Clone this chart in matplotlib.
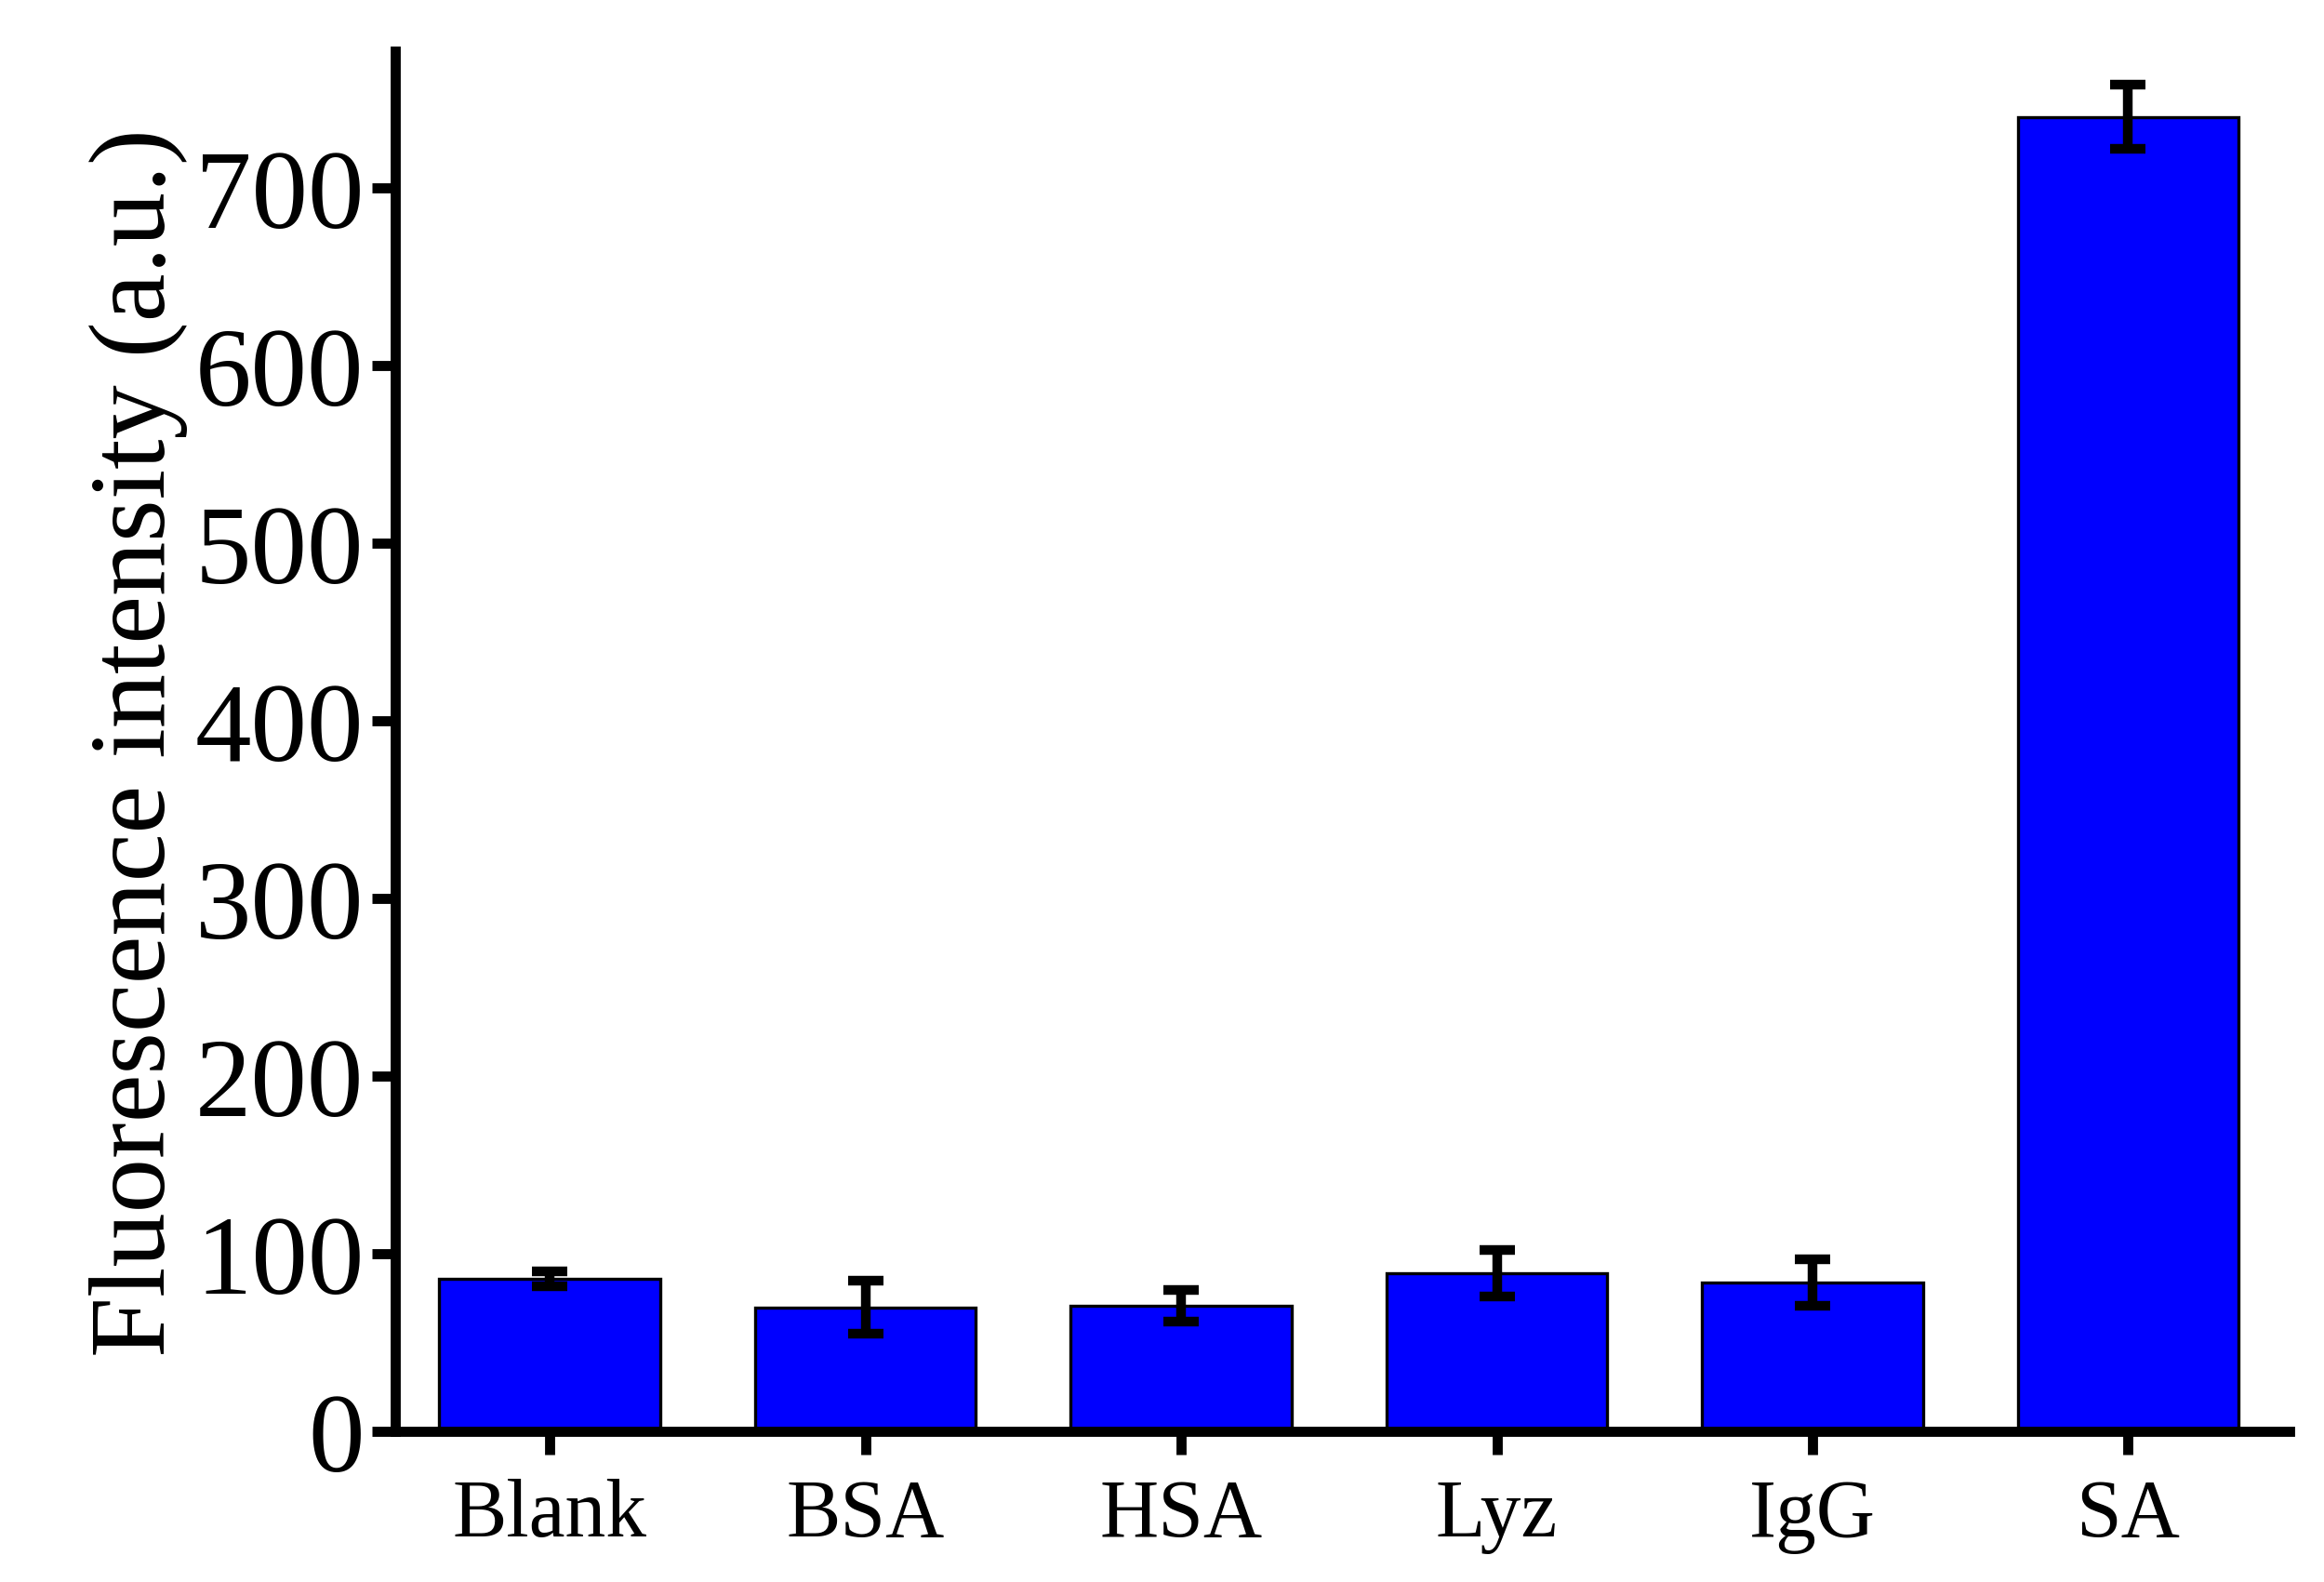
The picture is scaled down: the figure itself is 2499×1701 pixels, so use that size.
import matplotlib
matplotlib.use("Agg")
import matplotlib.pyplot as plt

categories = ["Blank", "BSA", "HSA", "Lyz", "IgG", "SA"]
values = [86, 70, 71, 89, 84, 740]
errors = [4, 15, 9, 13, 13, 18]

plt.rcParams['font.family'] = ['Liberation Serif', 'DejaVu Serif']

fig = plt.figure(figsize=(2499 / 300, 1702 / 300), dpi=300)
ax = fig.add_axes([0.170, 0.095, 0.815, 0.872])

x = range(len(categories))
ax.bar(x, values, width=0.7, color="#0000ff", edgecolor="black", linewidth=0.8,
       yerr=errors, capsize=4.5, error_kw=dict(elinewidth=2.5, capthick=2.5, ecolor="black"))

ax.set_xlim(-0.49, 5.51)
ax.set_ylim(0, 777)
ax.set_xticks(list(x))
ax.set_xticklabels(categories, fontsize=21)
ax.set_yticks(range(0, 701, 100))
ax.tick_params(axis="y", labelsize=29, width=2.6, length=6, direction="out", pad=2)
ax.tick_params(axis="x", width=2.6, length=6, direction="out", pad=6)
ax.set_ylabel("Fluorescence intensity (a.u.)", fontsize=28, labelpad=2)

for s in ["top", "right"]:
    ax.spines[s].set_visible(False)
for s in ["left", "bottom"]:
    ax.spines[s].set_linewidth(2.6)

fig.savefig("out.png", dpi=300)
